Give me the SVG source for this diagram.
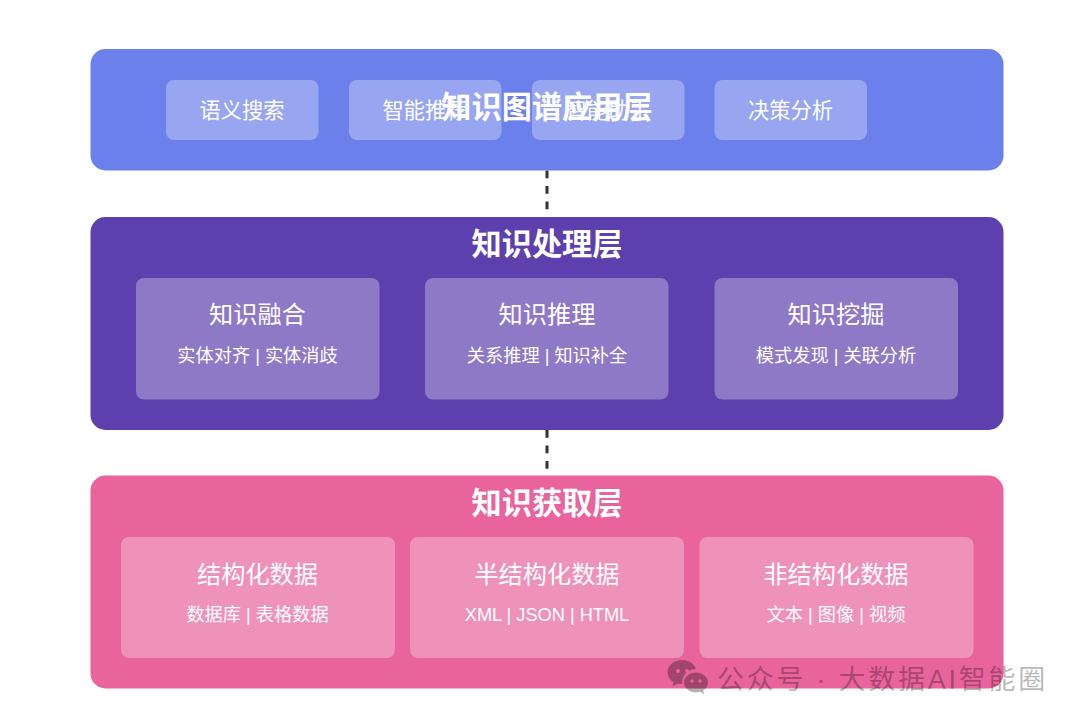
<svg xmlns="http://www.w3.org/2000/svg" width="1080" height="723" viewBox="0 0 1080 723">
<style>
text{font-family:"Liberation Sans","Noto Sans CJK SC",sans-serif;fill:#fff;text-anchor:middle}
.card{fill:#fff;fill-opacity:.3}
.h{font-size:30.200px;font-weight:700}
.t{font-size:24.200px}
.a{font-size:21.200px}
.s{font-size:18.200px}
.conn{stroke:#333;stroke-width:3;stroke-dasharray:7.750 7.750;fill:none}
.wm{fill:#000;fill-opacity:.3;font-size:27px;text-anchor:start;letter-spacing:2.750px}
</style>
<defs>
<mask id="wechat" maskUnits="userSpaceOnUse" x="660" y="655" width="60" height="50">
<path fill="#fff" d="M682 660c8 0 14.500 5.500 14.500 12s-6.500 12-14.500 12c-1.500 0-3-.2-4.400-.6l-5 3 1-4.300c-3.600-2.300-6-6-6-10.100 0-6.500 6.500-12 14.500-12z"/>
<circle cx="696" cy="683" r="14" fill="#000"/>
<path fill="#fff" d="M696 672.500c6.500 0 12 4.500 12 10 0 3.300-1.800 6.200-4.800 8l1 3.700-4.300-2.400c-1.200.4-2.600.6-3.900.6-6.500 0-12-4.400-12-9.900s5.500-10 12-10z"/>
<circle cx="678" cy="671" r="2" fill="#000"/>
<circle cx="687" cy="671" r="2" fill="#000"/>
<circle cx="692" cy="681" r="1.700" fill="#000"/>
<circle cx="700" cy="681" r="1.700" fill="#000"/>
</mask>
</defs>
<rect width="1080" height="723" fill="#fff"/>
<g id="connectors">
<line class="conn" x1="547" y1="170.500" x2="547" y2="216"/>
<line class="conn" x1="547" y1="430" x2="547" y2="475"/>
</g>
<g id="layer-app">
<rect x="90.500" y="49" width="913" height="121.500" rx="15" fill="#6c80eb"/>
<rect class="card" x="166" y="80" width="152.500" height="60" rx="8"/><text class="a" x="242" y="118">语义搜索</text>
<rect class="card" x="349" y="80" width="152.500" height="60" rx="8"/><text class="a" x="425" y="118">智能推荐</text>
<rect class="card" x="532" y="80" width="152.500" height="60" rx="8"/><text class="a" x="608" y="118">智能助手</text>
<rect class="card" x="714.500" y="80" width="152.500" height="60" rx="8"/><text class="a" x="790.500" y="118">决策分析</text>
<text class="h" x="547" y="118">知识图谱应用层</text>
</g>
<g id="layer-process">
<rect x="90.500" y="217" width="913" height="213" rx="15" fill="#5d3fae"/>
<text class="h" x="547" y="255">知识处理层</text>
<rect class="card" x="136" y="278" width="243.500" height="121.500" rx="8"/><text class="t" x="257.500" y="323">知识融合</text><text class="s" x="257.500" y="362">实体对齐 | 实体消歧</text>
<rect class="card" x="425" y="278" width="243.500" height="121.500" rx="8"/><text class="t" x="547" y="323">知识推理</text><text class="s" x="547" y="362">关系推理 | 知识补全</text>
<rect class="card" x="714.500" y="278" width="243.500" height="121.500" rx="8"/><text class="t" x="836" y="323">知识挖掘</text><text class="s" x="836" y="362">模式发现 | 关联分析</text>
</g>
<g id="layer-acquire">
<rect x="90.500" y="475.500" width="913" height="213" rx="15" fill="#e9639c"/>
<text class="h" x="547" y="514">知识获取层</text>
<rect class="card" x="121" y="537" width="274" height="121" rx="8"/><text class="t" x="257.500" y="583">结构化数据</text><text class="s" x="257.500" y="621">数据库 | 表格数据</text>
<rect class="card" x="410" y="537" width="274" height="121" rx="8"/><text class="t" x="547" y="583">半结构化数据</text><text class="s" x="547" y="621">XML | JSON | HTML</text>
<rect class="card" x="699.500" y="537" width="274" height="121" rx="8"/><text class="t" x="836" y="583">非结构化数据</text><text class="s" x="836" y="621">文本 | 图像 | 视频</text>
</g>
<g id="watermark">
<rect x="660" y="655" width="60" height="50" fill="#000" fill-opacity=".3" mask="url(#wechat)"/>
<text class="wm" x="717" y="689">公众号 · 大数据AI智能圈</text>
</g>
</svg>
